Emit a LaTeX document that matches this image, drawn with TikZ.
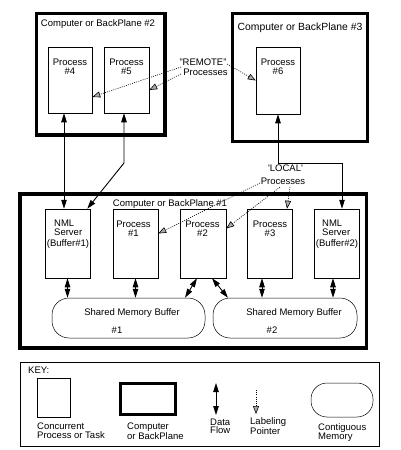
\documentclass[tikz,border=0pt]{standalone}
\usepackage{fontspec}
\setmainfont{Liberation Sans}
\usetikzlibrary{arrows.meta,calc}
\begin{document}
\begin{tikzpicture}[x=1pt,y=-1pt]
\tikzset{
 f/.style={font=\fontsize{9.5}{9}\selectfont, inner sep=0pt},
 fk/.style={font=\fontsize{9.5}{8.5}\selectfont, inner sep=0pt, align=left},
 procbox/.style={draw, line width=0.5pt, inner sep=0pt, minimum width=45pt, minimum height=69pt},
 hostbox/.style={draw, line width=3.5pt, inner sep=0pt},
 membuf/.style={draw, line width=0.5pt, rounded corners=17pt, inner sep=0pt, minimum height=40pt},
 flow/.style={line width=0.9pt, {Triangle[width=5.5pt,length=9pt]}-{Triangle[width=5.5pt,length=9pt]}},
 pointer/.style={line width=0.6pt, dash pattern=on 1pt off 1.2pt, -{Triangle[width=6pt,length=8pt,fill=gray!65]}}
}
\useasboundingbox (0,0) rectangle (400,450);
\fill[white] (0,0) rectangle (400,450);

% host boxes
\node[hostbox, minimum width=128.5pt, minimum height=121.5pt] (h2) at (100.75,74.25) {};
\node[hostbox, minimum width=135pt, minimum height=128pt] (h3) at (300,77.5) {};
\node[hostbox, minimum width=346.5pt, minimum height=154pt] (h1) at (193.25,271) {};
\node[f] (t2) at (98,24) {Computer or BackPlane \#2};
\node[f, font=\fontsize{10.4}{10}\selectfont] (t3) at (300,28) {Computer or BackPlane \#3};
\node[f] (t1) at (170,204) {Computer or BackPlane \#1};

% processes in #2 and #3
\node[procbox, minimum width=44pt, minimum height=66pt] (p4) at (70,80) {};
\node[procbox, minimum width=45pt, minimum height=66pt] (p5) at (126.5,80) {};
\node[procbox, minimum width=44pt, minimum height=67pt] (p6) at (278,80.5) {};
\node[f, align=center] (tp4) at (70,67) {Process\\\#4};
\node[f, align=center] (tp5) at (126.5,67) {Process\\\#5};
\node[f, align=center] (tp6) at (278,67) {Process\\\#6};

% processes in #1
\node[procbox] (n1) at (67.5,243.5) {};
\node[procbox] (p1) at (135.5,243.5) {};
\node[procbox, minimum width=46pt] (p2) at (203,243.5) {};
\node[procbox] (p3) at (269.5,243.5) {};
\node[procbox] (n2) at (336.5,243.5) {};
\node[f, align=left, anchor=west] (tn1) at (54,228) {NML\\Server};
\node[f] (tb1) at (68,244) {(Buffer\#1)};
\node[f, align=center] (tp1) at (133.5,229) {Process\\\#1};
\node[f, align=center] (tp2) at (202.5,229) {Process\\\#2};
\node[f, align=center] (tp3) at (270,229) {Process\\\#3};
\node[f, align=left, anchor=west] (tn2) at (322,228) {NML\\Server};
\node[f] (tb2) at (337,244) {(Buffer\#2)};

% shared memory buffers
\node[membuf, minimum width=153pt] (b1) at (128.5,318) {};
\node[membuf, minimum width=144pt] (b2) at (285,318) {};
\node[f] (tm1) at (132,313) {Shared Memory Buffer};
\node[f] (tn1b) at (117,330) {\#1};
\node[f] (tm2) at (294,313) {Shared Memory Buffer};
\node[f] (tn2b) at (272,330) {\#2};

% data flow between hosts
\draw[flow] ($(p4.south)+(-6,0)$) -- ($(p4.south |- n1.north)+(-6,0)$);
\coordinate (j5) at (124,163);
\draw[flow] ($(p5.south)+(-2.5,0)$) -- (j5) -- ($(n1.north east)+(-3,0)$);
\coordinate (j6) at (342,163);
\draw[flow] (p6.south) |- (j6) -- (j6 |- n2.north);

% data flow to buffers
\draw[flow] (n1.south) -- (n1.south |- b1.north);
\draw[flow] (p1.south) -- (p1.south |- b1.north);
\draw[flow] ($(p2.south)+(-6,0)$) -- ($(p2.south |- b1.north)+(-18,0)$);
\draw[flow] ($(p2.south)+(9,0)$) -- ($(p2.south |- b2.north)+(25,0)$);
\draw[flow] ($(p3.south)+(-7.5,0)$) -- ($(p3.south |- b2.north)+(-7.5,0)$);
\draw[flow] ($(n2.south)+(-3.5,0)$) -- ($(n2.south |- b2.north)+(-3.5,0)$);

% labels and pointers
\node[f, align=center] (rem) at (203,62) {"REMOTE"};
\node[f, align=center] (remp) at (205.5,72) {Processes};
\node[f, align=center] (loc) at (285.5,168) {\textquotesingle LOCAL\textquotesingle};
\node[f, align=center] (locp) at (283,181) {Processes};
\coordinate (r1) at (181,67);
\coordinate (r2) at (181,74);
\coordinate (r3) at (227,64);
\draw[pointer] (r1) -- ($(p4.east)+(0,17)$);
\draw[pointer] (r2) -- ($(p5.east)+(0,10)$);
\draw[pointer] (r3) -- (p6.west);
\coordinate (l1) at (260,183);
\coordinate (l2) at (280,187);
\coordinate (l3) at (290,187);
\draw[pointer] (l1) -- ($(p1.east)+(0,-10)$);
\draw[pointer] (l2) -- ($(p2.east)+(0,-15)$);
\draw[pointer] (l3) -- ($(p3.north)+(17.5,0)$);

% key
\node[draw, line width=0.5pt, inner sep=0pt, minimum width=359pt, minimum height=84pt] (key) at (199.5,404) {};
\node[f, anchor=west] (keyt) at (28,370) {KEY:};
\node[procbox, minimum width=33pt, minimum height=39pt] (kproc) at (53.5,397.5) {};
\node[hostbox, line width=3pt, minimum width=55pt, minimum height=31pt] (khost) at (148,399) {};
\coordinate (kfa) at (216,383);
\coordinate (kfb) at (216,415);
\draw[flow] (kfa) -- (kfb);
\coordinate (kpa) at (256,390);
\coordinate (kpb) at (256,414);
\draw[pointer] (kpa) -- (kpb);
\node[draw, line width=0.5pt, rounded corners=16pt, inner sep=0pt, minimum width=62pt, minimum height=34pt] (kmem) at (342,400) {};
\node[fk, anchor=north west] (kl1) at (37,423) {Concurrent\\Process or Task};
\node[fk, anchor=north west] (kl2) at (127,422.5) {Computer\\or BackPlane};
\node[fk, anchor=north west] (kl3) at (210,418.5) {Data\\Flow};
\node[fk, anchor=north west] (kl4) at (250,417.5) {Labeling\\Pointer};
\node[fk, anchor=north west] (kl5) at (318,423) {Contiguous\\Memory};
\end{tikzpicture}
\end{document}
